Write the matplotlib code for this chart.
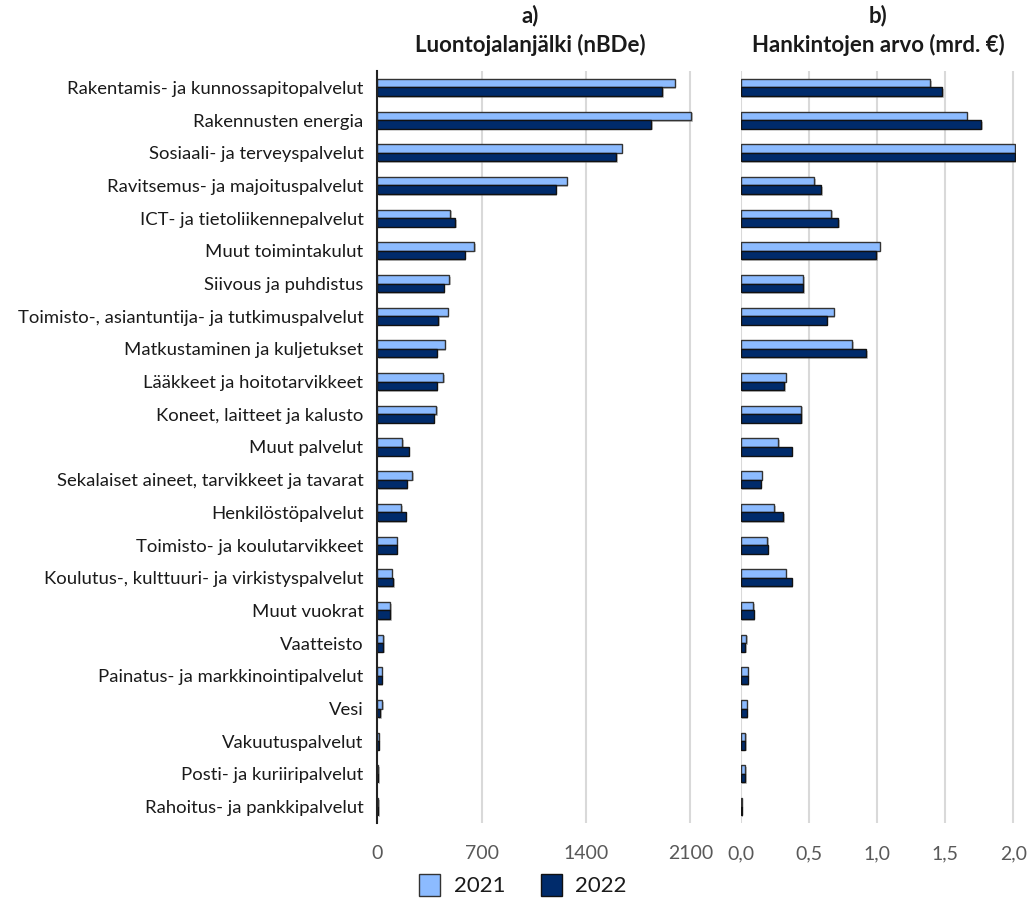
import numpy as np
import matplotlib.pyplot as plt
from matplotlib.patches import Patch
import matplotlib.patheffects as pe

plt.rcParams["font.family"] = ["Lato", "DejaVu Sans"]

categories = [
    "Rakentamis- ja kunnossapitopalvelut",
    "Rakennusten energia",
    "Sosiaali- ja terveyspalvelut",
    "Ravitsemus- ja majoituspalvelut",
    "ICT- ja tietoliikennepalvelut",
    "Muut toimintakulut",
    "Siivous ja puhdistus",
    "Toimisto-, asiantuntija- ja tutkimuspalvelut",
    "Matkustaminen ja kuljetukset",
    "Lääkkeet ja hoitotarvikkeet",
    "Koneet, laitteet ja kalusto",
    "Muut palvelut",
    "Sekalaiset aineet, tarvikkeet ja tavarat",
    "Henkilöstöpalvelut",
    "Toimisto- ja koulutarvikkeet",
    "Koulutus-, kulttuuri- ja virkistyspalvelut",
    "Muut vuokrat",
    "Vaatteisto",
    "Painatus- ja markkinointipalvelut",
    "Vesi",
    "Vakuutuspalvelut",
    "Posti- ja kuriiripalvelut",
    "Rahoitus- ja pankkipalvelut",
]

# a) Luontojalanjälki (nBDe)
footprint_2021 = [1995, 2107, 1639, 1270, 490, 651, 481, 472, 452, 443, 396, 168,
                  235, 161, 130, 96, 85, 38, 29, 31, 9, 8, 7]
footprint_2022 = [1912, 1836, 1601, 1196, 521, 586, 445, 407, 398, 398, 378, 210,
                  197, 190, 130, 105, 87, 38, 29, 20, 9, 8, 7]

# b) Hankintojen arvo (mrd. €)
value_2021 = [1.392, 1.659, 2.010, 0.537, 0.662, 1.020, 0.456, 0.681, 0.816, 0.331,
              0.444, 0.277, 0.154, 0.248, 0.196, 0.331, 0.093, 0.042, 0.051, 0.044,
              0.032, 0.032, 0.007]
value_2022 = [1.478, 1.765, 2.010, 0.591, 0.713, 0.993, 0.456, 0.630, 0.922, 0.321,
              0.444, 0.373, 0.147, 0.311, 0.199, 0.375, 0.096, 0.032, 0.051, 0.044,
              0.032, 0.032, 0.007]

years = ["2021", "2022"]
ticks_a = [0, 700, 1400, 2100]
ticks_b = [0.0, 0.5, 1.0, 1.5, 2.0]
tick_labels_b = ["0,0", "0,5", "1,0", "1,5", "2,0"]

COLOR_2021 = "#8cbbff"
COLOR_2022 = "#002b6b"
EDGE_2021 = "#333333"
EDGE_2022 = "#111111"
GRID = "#d9d9d9"
TEXT = "#1a1a1a"
TICK_TEXT = "#595959"

W, H = 1033, 899
fig = plt.figure(figsize=(W / 100, H / 100), dpi=100)

ax_a = fig.add_axes([377.3 / W, 1 - 823 / H, (705.2 - 377.3) / W, 752 / H])
ax_b = fig.add_axes([740.7 / W, 1 - 823 / H, (1016 - 740.7) / W, 752 / H])

y = np.arange(len(categories))
h = 0.26
shadow = [pe.SimplePatchShadow(offset=(1.2, -1.2), shadow_rgbFace="#888888", alpha=0.5),
          pe.Normal()]


def draw_panel(ax, v21, v22):
    b1 = ax.barh(y - h / 2, v21, height=h, color=COLOR_2021, edgecolor=EDGE_2021,
                 linewidth=1.0, zorder=3)
    b2 = ax.barh(y + h / 2, v22, height=h, color=COLOR_2022, edgecolor=EDGE_2022,
                 linewidth=1.0, zorder=3)
    for bar in list(b1) + list(b2):
        bar.set_path_effects(shadow)
    ax.set_ylim(len(categories) - 0.5, -0.5)
    ax.grid(axis="x", color=GRID, linewidth=1.5, zorder=0)
    ax.set_axisbelow(True)
    for side in ["top", "right", "bottom", "left"]:
        ax.spines[side].set_visible(False)
    ax.tick_params(axis="x", length=0, pad=16, labelsize=14, labelcolor=TICK_TEXT)


draw_panel(ax_a, footprint_2021, footprint_2022)
draw_panel(ax_b, value_2021, value_2022)

ax_a.set_xlim(0, 2200)
ax_a.set_xticks(ticks_a)
ax_a.spines["left"].set_visible(True)
ax_a.spines["left"].set_color("#222222")
ax_a.spines["left"].set_linewidth(1.5)
ax_a.spines["left"].set_zorder(4)
ax_a.set_yticks(y)
ax_a.set_yticklabels(categories, fontsize=13.3, color=TEXT)
ax_a.tick_params(axis="y", length=0, pad=10)

ax_b.set_xlim(0, 2.02)
ax_b.set_xticks(ticks_b)
ax_b.set_xticklabels(tick_labels_b)
ax_b.set_yticks([])

title_kw = dict(ha="center", va="center", fontsize=16, fontweight="bold", color=TEXT)
fig.text(530 / W, 1 - 16 / H, "a)", **title_kw)
fig.text(530 / W, 1 - 45 / H, "Luontojalanjälki (nBDe)", **title_kw)
fig.text(878 / W, 1 - 16 / H, "b)", **title_kw)
fig.text(878 / W, 1 - 45 / H, "Hankintojen arvo (mrd. €)", **title_kw)

handles = [
    Patch(facecolor=COLOR_2021, edgecolor=EDGE_2021, label=years[0]),
    Patch(facecolor=COLOR_2022, edgecolor=EDGE_2022, label=years[1]),
]
fig.legend(handles=handles, loc="center", bbox_to_anchor=(523 / W, 1 - 885 / H),
           ncol=2, frameon=False, fontsize=16, handlelength=0.95, handleheight=1.2,
           columnspacing=1.6, handletextpad=0.6, labelcolor=TEXT)

fig.savefig("out.png", dpi=100)
